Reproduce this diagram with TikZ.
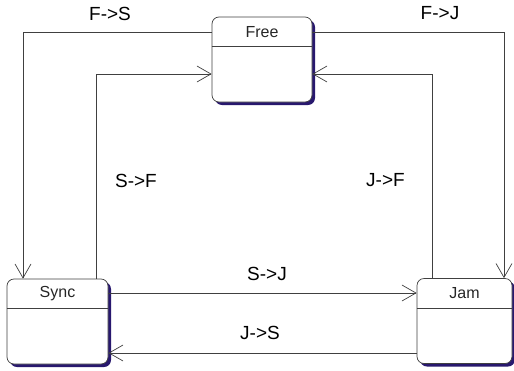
\documentclass[tikz,border=0pt]{standalone}
\usepackage{fontspec}
\setmainfont{Liberation Sans}
\usetikzlibrary{positioning, arrows.meta, shadows}
\definecolor{shadowblue}{RGB}{40,24,110}

\begin{document}
\begin{tikzpicture}[x=1pt, y=-1pt,
    state/.style={rectangle, draw=black!75, fill=white, rounded corners=7pt, minimum height=85pt, minimum width=#1, inner sep=0pt, line width=0.7pt, drop shadow={shadow xshift=3pt, shadow yshift=-3pt, fill=shadowblue, opacity=1}},
    title/.style={font=\fontsize{16}{18}\selectfont, text=black!85},
    trans/.style={-{Straight Barb[length=14pt, width=16pt]}, draw=black!75, line width=0.7pt},
    lbl/.style={font=\fontsize{19}{22}\selectfont},
]
\useasboundingbox (0,0) rectangle (514,370);

% --- states ---
\node[state=100pt] (free) at (262,59.5) {};
\node[state=101pt] (sync) at (57.5,321.5) {};
\node[state=95pt] (jam) at (464.5,321) {};

\node[title] (freetitle) at ([yshift=-15pt]free.north) {Free};
\node[title] (synctitle) at ([yshift=-15pt]sync.north) {Sync};
\node[title] (jamtitle) at ([yshift=-15pt]jam.north) {Jam};

\draw[draw=black!75, line width=0.7pt] ([yshift=-30pt]free.north west) -- ([yshift=-30pt]free.north east);
\draw[draw=black!75, line width=0.7pt] ([yshift=-30pt]sync.north west) -- ([yshift=-30pt]sync.north east);
\draw[draw=black!75, line width=0.7pt] ([yshift=-30pt]jam.north west) -- ([yshift=-30pt]jam.north east);

% --- transitions ---
\draw[trans] (free.west |- 0,32) -| (23,0 |- sync.north);
\draw[trans] (96,0 |- sync.north) |- (free.west |- 0,74);
\draw[trans] (free.east |- 0,32) -| (504,0 |- jam.north);
\draw[trans] (432,0 |- jam.north) |- (free.east |- 0,74);
\draw[trans] (sync.east |- 0,293) -- (jam.west |- 0,293);
\draw[trans] (jam.west |- 0,353) -- (sync.east |- 0,353);

\node[lbl] (fs) at (110,13.5) {F->S};
\node[lbl] (fj) at (440,13.5) {F->J};
\node[lbl] (sf) at (136,180.5) {S->F};
\node[lbl] (jf) at (385.5,180) {J->F};
\node[lbl] (sj) at (267,273.5) {S->J};
\node[lbl] (js) at (260,332.5) {J->S};

\end{tikzpicture}
\end{document}
